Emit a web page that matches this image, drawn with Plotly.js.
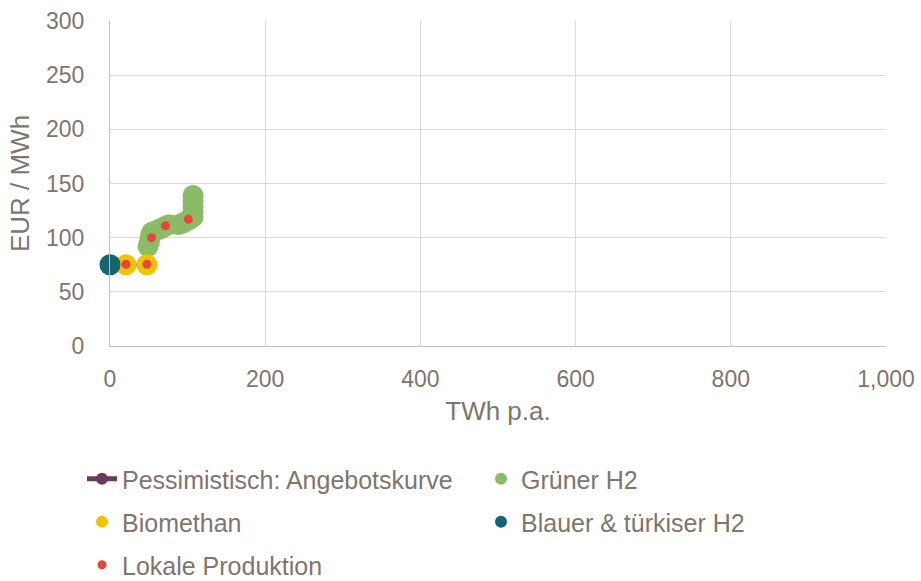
<!DOCTYPE html>
<html><head><meta charset="utf-8">
<script src="https://cdn.plot.ly/plotly-3.0.1.min.js"></script>
<style>html,body{margin:0;padding:0;background:#fff}#chart{width:921px;height:581px}</style>
</head><body><div id="chart"></div>
<script>
// Grüner H2
const greenX = [49, 51, 52, 54, 58, 64, 70, 76, 88, 93, 98, 103, 107, 107, 107, 107, 107];
const greenY = [92, 97, 102, 105, 106, 108, 110, 112, 112, 113, 115, 117, 119, 124, 129, 134, 139];
// Biomethan
const bioX = [20.6, 47.5];
const bioY = [75, 75];
// Blauer & türkiser H2
const blueX = [0];
const blueY = [75];
// Lokale Produktion
const localX = [20.6, 47.5, 53.5, 71.5, 101];
const localY = [75.5, 75.5, 100, 111, 117];

// Supply curve (Pessimistisch) through all sources
const pts = blueX.map((x,i)=>[x,blueY[i]])
  .concat(bioX.map((x,i)=>[x,bioY[i]]))
  .concat(greenX.map((x,i)=>[x,greenY[i]]));
const curveX = pts.map(p=>p[0]);
const curveY = pts.map(p=>p[1]);

const txt = '#7f756c';
const fam = 'Liberation Sans, Arial, sans-serif';
const tickFont = {family:fam, size:23, color:txt};
const titleFont = {family:fam, size:26, color:txt};
const legFont = {family:fam, size:25, color:txt};

const traces = [
  {x:curveX, y:curveY, mode:'lines+markers', name:'Pessimistisch: Angebotskurve', cliponaxis:false,
   line:{color:'#6b3a5e', width:3}, marker:{color:'#6b3a5e', size:10}, legend:'legend'},
  {x:greenX, y:greenY, mode:'markers', name:'Grüner H2', cliponaxis:false,
   marker:{color:'#8cbb68', size:21}, legend:'legend2'},
  {x:bioX, y:bioY, mode:'markers', name:'Biomethan', cliponaxis:false,
   marker:{color:'#efc400', size:21}, legend:'legend3'},
  {x:blueX, y:blueY, mode:'markers', name:'Blauer & türkiser H2', cliponaxis:false,
   marker:{color:'#146471', size:21}, legend:'legend4'},
  {x:localX, y:localY, mode:'markers', name:'Lokale Produktion', cliponaxis:false,
   marker:{color:'#e8443a', size:9}, legend:'legend5'}
];

function px2x(p){ return (p-110)/776; }
function px2y(p){ return (346-p)/325; }
function leg(xpx, ypx, sizing){
  return {orientation:'v', font:legFont, bgcolor:'rgba(0,0,0,0)', xanchor:'left', yanchor:'middle',
    itemsizing:sizing||'constant', x:px2x(xpx-40), y:px2y(ypx), borderwidth:0};
}

const layout = {
  width:921, height:581,
  margin:{l:110, r:35, t:21, b:235, autoexpand:false},
  paper_bgcolor:'#fff', plot_bgcolor:'#fff',
  font:tickFont,
  showlegend:true,
  xaxis:{range:[0,1000], dtick:200, tick0:0, tickformat:',', showgrid:true, gridcolor:'#d9d9d9', gridwidth:1,
    zeroline:false, showline:true, linecolor:'#bfbfbf', linewidth:1, ticks:'outside', ticklen:12, tickcolor:'rgba(0,0,0,0)',
    tickfont:tickFont, title:{text:'TWh p.a.', font:titleFont, standoff:11}, fixedrange:true},
  yaxis:{range:[0,300], dtick:50, tick0:0, showgrid:true, gridcolor:'#d9d9d9', gridwidth:1,
    zeroline:false, showline:true, linecolor:'#bfbfbf', linewidth:1, ticks:'outside', ticklen:20, tickcolor:'rgba(0,0,0,0)',
    tickfont:tickFont, title:{text:'EUR / MWh', font:titleFont, standoff:8}, fixedrange:true},
  legend: leg(122, 479),
  legend2: leg(521, 479),
  legend3: leg(122, 522),
  legend4: leg(521, 522),
  legend5: leg(122, 565, 'trace')
};

Plotly.newPlot('chart', traces, layout, {displayModeBar:false, staticPlot:true});
</script></body></html>
